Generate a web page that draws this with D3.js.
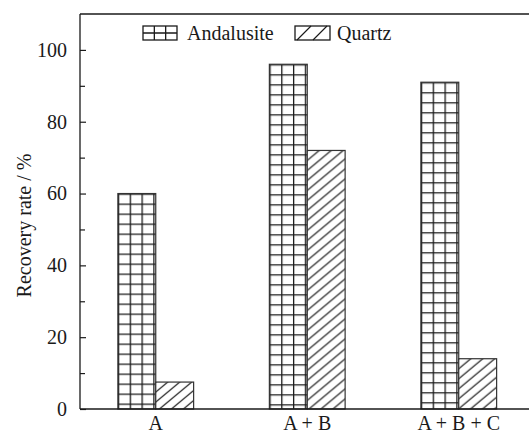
<!DOCTYPE html>
<html>
<head>
<meta charset="utf-8">
<script src="https://cdn.jsdelivr.net/npm/d3@7"></script>
<style>
  html, body { margin: 0; padding: 0; background: #fff; }
  svg { display: block; font-family: "Liberation Serif", "Times New Roman", serif; }
</style>
</head>
<body>
<svg id="chart" width="529" height="435"></svg>
<script>
// ---- data ----
const categories = ["A", "A + B", "A + B + C"];
const seriesNames = ["Andalusite", "Quartz"];
const andalusite = [60, 96, 91];
const quartz = [7.5, 72, 14];
const yTicks = [0, 20, 40, 60, 80, 100];
const yMinorTicks = [10, 30, 50, 70, 90];
const yLabel = "Recovery rate / %";

// ---- layout ----
const W = 529, H = 435;
const margin = { left: 80, top: 14, bottom: 409, right: 534.5 };
const ink = "#1a1a1a";
const FONT = '"Liberation Serif", "Times New Roman", serif';

const svg = d3.select("#chart");
const defs = svg.append("defs");

const y = d3.scaleLinear().domain([0, 110]).range([margin.bottom, margin.top]);
const x0 = d3.scaleBand().domain(categories).range([margin.left, margin.right])
  .paddingInner(0.5).paddingOuter(0.25);
const x1 = d3.scaleBand().domain(seriesNames).range([0, x0.bandwidth()]);

const rows = categories.map((c, i) => ({ cat: c, values: [andalusite[i], quartz[i]] }));
const bars = [];
rows.forEach((r, i) => {
  seriesNames.forEach((s, j) => {
    bars.push({ cat: r.cat, series: s, value: r.values[j], id: "p" + i + "_" + j });
  });
});

// patterns per bar (aligned to bar top-left)
const cellW = 11.8, cellH = 10;
const hatchW = 12, hatchH = 10;
bars.forEach(b => {
  const bx = x0(b.cat) + x1(b.series);
  const by = y(b.value);
  if (b.series === "Andalusite") {
    const p = defs.append("pattern").attr("id", b.id)
      .attr("patternUnits", "userSpaceOnUse")
      .attr("x", bx).attr("y", by)
      .attr("width", cellW).attr("height", cellH);
    p.append("rect").attr("width", cellW).attr("height", cellH).attr("fill", "#fff");
    p.append("path").attr("d", `M0,0.65 H${cellW} M0.65,0 V${cellH}`)
      .attr("stroke", ink).attr("stroke-width", 1.3).attr("fill", "none");
  } else {
    const p = defs.append("pattern").attr("id", b.id)
      .attr("patternUnits", "userSpaceOnUse")
      .attr("x", bx).attr("y", by)
      .attr("width", hatchW).attr("height", hatchH);
    p.append("rect").attr("width", hatchW).attr("height", hatchH).attr("fill", "#fff");
    p.append("path")
      .attr("d", `M0,${hatchH} L${hatchW},0 M-2,1.67 L2,-1.67 M${hatchW - 2},${hatchH + 1.67} L${hatchW + 2},${hatchH - 1.67}`)
      .attr("stroke", ink).attr("stroke-width", 1.2).attr("fill", "none");
  }
});

// bars
svg.append("g").selectAll("rect.bar").data(bars).join("rect")
  .attr("class", "bar")
  .attr("x", d => x0(d.cat) + x1(d.series))
  .attr("y", d => y(d.value))
  .attr("width", x1.bandwidth())
  .attr("height", d => y(0) - y(d.value))
  .attr("fill", d => `url(#${d.id})`)
  .attr("stroke", "#333")
  .attr("stroke-width", 1.2);

// frame: top line
svg.append("line").attr("x1", margin.left).attr("x2", W).attr("y1", y(110)).attr("y2", y(110))
  .attr("stroke", ink).attr("stroke-width", 1.3);

// y axis
const yAxis = d3.axisLeft(y).tickValues(yTicks).tickSize(-6).tickPadding(13).tickFormat(d3.format("d"));
const gy = svg.append("g").attr("transform", `translate(${margin.left},0)`).call(yAxis);
gy.attr("font-family", FONT);
gy.select(".domain").remove();
gy.selectAll(".tick line").attr("stroke", ink).attr("stroke-width", 1.2);
gy.selectAll(".tick text").attr("fill", ink).style("font-size", "20px").style("font-family", FONT);

const gyMinor = svg.append("g").attr("transform", `translate(${margin.left},0)`)
  .call(d3.axisLeft(y).tickValues(yMinorTicks).tickSize(-5).tickFormat(""));
gyMinor.select(".domain").remove();
gyMinor.selectAll(".tick line").attr("stroke", ink).attr("stroke-width", 1.2);

svg.append("line").attr("x1", margin.left).attr("x2", margin.left)
  .attr("y1", y(110)).attr("y2", y(0))
  .attr("stroke", ink).attr("stroke-width", 1.3);

// x axis
const xAxis = d3.axisBottom(x0).tickSize(0).tickPadding(7);
const gx = svg.append("g").attr("transform", `translate(0,${y(0)})`).call(xAxis);
gx.attr("font-family", FONT);
gx.select(".domain").remove();
gx.selectAll(".tick text").attr("fill", ink).style("font-size", "20px").style("font-family", FONT);
svg.append("line").attr("x1", margin.left).attr("x2", W).attr("y1", y(0)).attr("y2", y(0))
  .attr("stroke", ink).attr("stroke-width", 1.3);

// y label
svg.append("text")
  .attr("transform", `translate(31,${(y(0) + y(110)) / 2 + 14}) rotate(-90)`)
  .attr("text-anchor", "middle")
  .attr("fill", ink)
  .style("font-size", "20px")
  .style("font-family", FONT)
  .text(yLabel);

// legend
const lg = svg.append("g").attr("font-family", FONT);
// Andalusite swatch
const s1 = { x: 143, y: 26, w: 34, h: 14 };
lg.append("rect").attr("x", s1.x).attr("y", s1.y).attr("width", s1.w).attr("height", s1.h)
  .attr("fill", "#fff").attr("stroke", ink).attr("stroke-width", 1.3);
lg.append("path")
  .attr("d", `M${s1.x + s1.w / 3},${s1.y} V${s1.y + s1.h} M${s1.x + 2 * s1.w / 3},${s1.y} V${s1.y + s1.h} M${s1.x},${s1.y + s1.h / 2} H${s1.x + s1.w}`)
  .attr("stroke", ink).attr("stroke-width", 1.3);
lg.append("text").attr("x", 187).attr("y", 40).attr("fill", ink).style("font-size", "20px").text(seriesNames[0]);
// Quartz swatch
const s2 = { x: 295, y: 26, w: 35, h: 14 };
lg.append("rect").attr("x", s2.x).attr("y", s2.y).attr("width", s2.w).attr("height", s2.h)
  .attr("fill", "#fff").attr("stroke", ink).attr("stroke-width", 1.3);
lg.append("path")
  .attr("d", `M${s2.x + 2},${s2.y + s2.h} L${s2.x + 16},${s2.y} M${s2.x + 18},${s2.y + s2.h} L${s2.x + 32},${s2.y}`)
  .attr("stroke", ink).attr("stroke-width", 1.2);
lg.append("text").attr("x", 337).attr("y", 40).attr("fill", ink).style("font-size", "20px").text(seriesNames[1]);
</script>
</body>
</html>
